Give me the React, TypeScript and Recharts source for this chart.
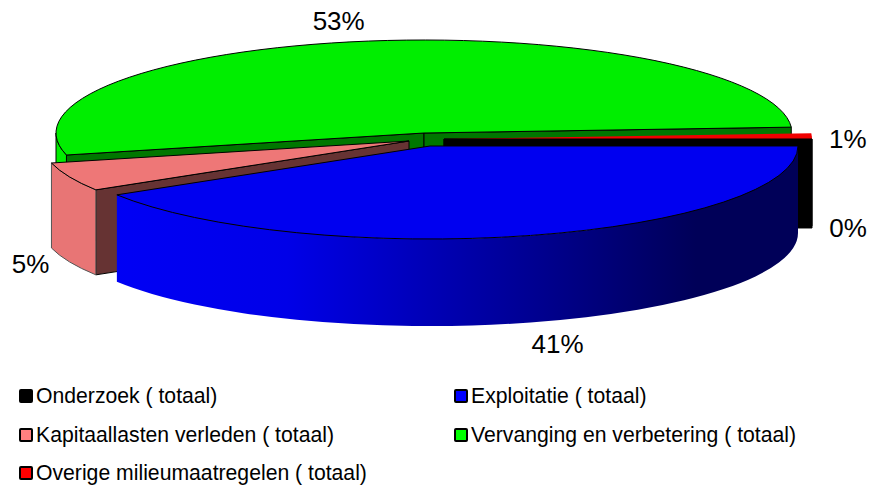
import React from 'react';
import { PieChart, Pie, Legend } from 'recharts';

const categories = [
  'Onderzoek ( totaal)',
  'Exploitatie ( totaal)',
  'Kapitaallasten verleden ( totaal)',
  'Vervanging en verbetering ( totaal)',
  'Overige milieumaatregelen ( totaal)',
];
const shares = [0, 41.2, 5, 52.8, 1];

const topColors = ['#000000', '#0000f0', '#ee7777', '#00ee00', '#f00000'];
const topStrokes = ['none', '#000000', '#000000', '#000000', 'none'];
const wallColors = ['#000000', 'url(#blueWall)', '#e87575', '#00ee00', '#990000'];
const wallStrokes = ['#000000', 'none', '#555555', '#000000', '#000000'];
const faceColors = ['#000000', '#000077', '#663333', '#007700', '#770000'];
const legendColors = ['#000000', '#0000ff', '#ff8080', '#00ff00', '#ff0000'];

// draw order back to front, and where each exploded slice sits
const layers = [3, 4, 0, 2, 1];
const centerX = [444, 430, 409, 424, 444];
const centerY = [139, 146, 141, 133, 139];
const depths = [89, 87, 85, 87, 87];
const labelOffsets = [
  [36, 89],
  [27, 109],
  [-39, 87],
  [-30, -20],
  [36, 3],
];

const RX = 368;
const RY = 93;
const rows = categories.map((name, i) => ({ name, value: shares[i] }));

const Slice3D = (props: any, own: number) => {
  if (props.index !== own) return <g />;
  const { cx, cy, startAngle, endAngle } = props;
  const depth = depths[own];
  const t1 = -startAngle;
  const t2 = -endAngle;
  const px = (t: number) => cx + RX * Math.cos((t * Math.PI) / 180);
  const py = (t: number) => cy + RY * Math.sin((t * Math.PI) / 180);
  const line = { stroke: '#000', strokeWidth: 1, strokeLinejoin: 'round' as const };

  const face = (t: number) =>
    `M${cx},${cy} L${px(t)},${py(t)} L${px(t)},${py(t) + depth} L${cx},${cy + depth} Z`;
  const showStart = Math.cos((t1 * Math.PI) / 180) < 0;
  const showEnd = Math.cos((t2 * Math.PI) / 180) > 0;

  const w1 = Math.max(t1, 0);
  const w2 = Math.min(t2, 180);
  const hasWall = w2 > w1;
  const wall = `M${px(w1)},${py(w1)} A${RX},${RY} 0 0 1 ${px(w2)},${py(w2)} L${px(w2)},${py(w2) + depth} A${RX},${RY} 0 0 0 ${px(w1)},${py(w1) + depth} Z`;
  const top = `M${cx},${cy} L${px(t1)},${py(t1)} A${RX},${RY} 0 ${t2 - t1 > 180 ? 1 : 0} 1 ${px(t2)},${py(t2)} Z`;

  return (
    <g>
      <defs>
        <linearGradient id="blueWall" x1="0" y1="0" x2="1" y2="0">
          <stop offset="0%" stopColor="#0000f5" />
          <stop offset="25%" stopColor="#0000e8" />
          <stop offset="85%" stopColor="#000058" />
          <stop offset="100%" stopColor="#000058" />
        </linearGradient>
      </defs>
      {showStart && <path d={face(t1)} fill={faceColors[own]} {...line} />}
      {showEnd && <path d={face(t2)} fill={faceColors[own]} {...line} />}
      {hasWall && <path d={wall} fill={wallColors[own]} stroke={wallStrokes[own]} strokeWidth={1} />}
      {t2 - t1 > 0.1 && <path d={top} fill={topColors[own]} stroke={topStrokes[own]} strokeWidth={1} />}
    </g>
  );
};

const PercentLabel = (props: any, own: number) => {
  if (props.index !== own) return <g />;
  const t = (props.midAngle * Math.PI) / 180;
  const x = centerX[own] + RX * Math.cos(t) + labelOffsets[own][0];
  const y = centerY[own] - RY * Math.sin(t) + labelOffsets[own][1];
  return (
    <text
      x={x}
      y={y}
      textAnchor="middle"
      dominantBaseline="central"
      fontFamily="Liberation Sans"
      fontSize={26}
      fill="#000"
    >
      {`${Math.round(props.percent * 100)}%`}
    </text>
  );
};

const LegendGrid = () => (
  <div>
    {categories.map((name, i) => (
      <div
        key={name}
        style={{
          position: 'absolute',
          left: i % 2 === 0 ? 19 : 454,
          top: 385 + Math.floor(i / 2) * 38.5,
          display: 'flex',
          alignItems: 'center',
          height: 22,
          fontFamily: 'Liberation Sans',
          fontSize: 21.2,
          color: '#000',
          whiteSpace: 'nowrap',
        }}
      >
        <span
          style={{
            width: 10,
            height: 10,
            marginRight: 3,
            background: legendColors[i],
            border: '2px solid #000',
            borderRadius: 2,
            display: 'inline-block',
          }}
        />
        {name}
      </div>
    ))}
  </div>
);

export default function App() {
  return (
    <div style={{ position: 'absolute', left: 0, top: 0, width: 870, height: 486, overflow: 'hidden' }}>
      <PieChart width={870} height={486} margin={{ top: 0, right: 0, bottom: 0, left: 0 }}>
        {layers.map((own) => (
          <Pie
            key={own}
            data={rows}
            dataKey="value"
            nameKey="name"
            cx={centerX[own]}
            cy={centerY[own]}
            outerRadius={RX}
            startAngle={0.01}
            endAngle={-359.99}
            stroke="none"
            legendType="none"
            isAnimationActive={false}
            labelLine={false}
            label={(p: any) => PercentLabel(p, own)}
            shape={(p: any) => Slice3D(p, own)}
          />
        ))}
        <Legend
          content={LegendGrid}
          wrapperStyle={{ position: 'absolute', left: 0, top: 0, bottom: 'auto', width: 870, height: 0 }}
        />
      </PieChart>
    </div>
  );
}
